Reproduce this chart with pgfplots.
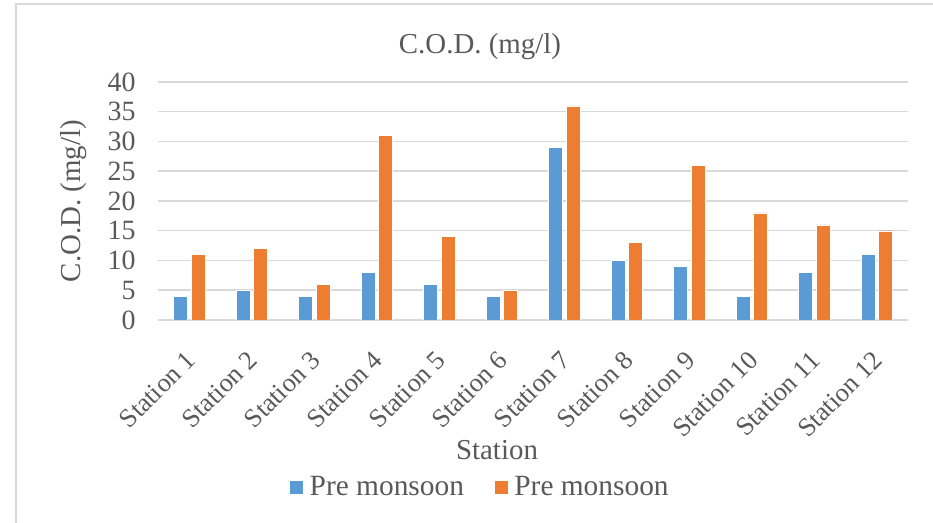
\documentclass[border=0pt]{standalone}
\usepackage{fontspec}
\setmainfont{Liberation Serif}
\usepackage{pgfplots}
\pgfplotsset{compat=1.18}

\definecolor{barblue}{HTML}{5B9BD5}
\definecolor{barorange}{HTML}{ED7D31}
\definecolor{txtgray}{HTML}{595959}
\definecolor{gridgray}{HTML}{D9D9D9}

\begin{document}
\begin{tikzpicture}[x=1bp,y=1bp]
% page frame (axis lower-left corner at origin)
\path[use as bounding box] (-158,-203) rectangle (775,320);
\draw[gridgray, line width=1.5bp] (-142,-203) -- (-142,316) -- (775,316);

\begin{axis}[
  at={(0,0)}, anchor=south west,
  scale only axis, width=750bp, height=238bp,
  ybar, bar width=0.22,
  xmin=-0.5, xmax=11.5, ymin=0, ymax=40,
  ytick={0,5,...,40},
  xtick=data,
  xticklabels={Station 1,Station 2,Station 3,Station 4,Station 5,Station 6,
               Station 7,Station 8,Station 9,Station 10,Station 11,Station 12},
  xtick style={draw=none}, ytick style={draw=none},
  axis x line*=bottom, axis y line*=left,
  x axis line style={gridgray, line width=1.5bp, -},
  y axis line style={draw=none},
  ymajorgrids, grid style={gridgray, line width=1.5bp},
  tick label style={text=txtgray},
  yticklabel style={font=\fontsize{28}{28}\selectfont, xshift=-19bp},
  xticklabel style={font=\fontsize{26.5}{26.5}\selectfont, rotate=45, anchor=east,
                    yshift=-23.6bp, xshift=-18bp},
  /pgf/number format/assume math mode=true,
  title={C.O.D. (mg/l)},
  title style={at={(axis description cs:0.4293,1.122)}, anchor=center,
               font=\fontsize{29}{29}\selectfont, text=txtgray},
  xlabel={Station},
  xlabel style={at={(axis description cs:0.452,-0.546)}, anchor=center,
                font=\fontsize{29}{29}\selectfont, text=txtgray},
  ylabel={C.O.D. (mg/l)},
  ylabel style={at={(axis description cs:-0.113,0.5)}, anchor=center,
                font=\fontsize{29}{29}\selectfont, text=txtgray},
  legend columns=2,
  legend style={at={(axis description cs:0.4293,-0.7017)}, anchor=center,
                draw=none, fill=none, text=txtgray,
                font=\fontsize{29.5}{29.5}\selectfont,
                /tikz/every odd column/.append style={column sep=4bp},
                /tikz/every even column/.append style={column sep=28bp}},
  legend image code/.code={\fill[#1] (0bp,-7bp) rectangle (14bp,7bp);},
]
\addplot[fill=barblue, draw=white, line width=0.4bp, bar shift=-0.14]
  coordinates {(0,4) (1,5) (2,4) (3,8) (4,6) (5,4) (6,29) (7,10) (8,9) (9,4) (10,8) (11,11)};
\addplot[fill=barorange, draw=white, line width=0.4bp, bar shift=0.14]
  coordinates {(0,11) (1,12) (2,6) (3,31) (4,14) (5,5) (6,36) (7,13) (8,26) (9,18) (10,16) (11,15)};
\legend{Pre monsoon, Pre monsoon}
\end{axis}
\end{tikzpicture}
\end{document}
